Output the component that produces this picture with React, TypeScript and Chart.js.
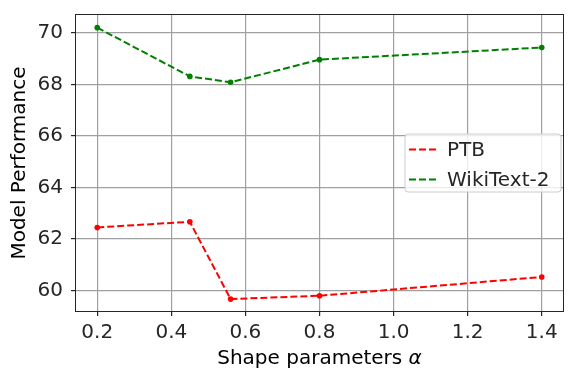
import React, { useEffect, useRef } from "react";
import { Chart, registerables } from "chart.js";

Chart.register(...registerables);

const alphaValues = [0.2, 0.45, 0.56, 0.8, 1.4];
const ptbValues = [62.45, 62.67, 59.67, 59.8, 60.53];
const wikiValues = [70.2, 68.31, 68.08, 68.96, 69.43];
const xTickValues = [0.2, 0.4, 0.6, 0.8, 1.0, 1.2, 1.4];
const yTickValues = [60, 62, 64, 66, 68, 70];
const seriesLabels = ["PTB", "WikiText-2"];
const seriesColors = ["#ff0000", "#008000"];

const FONT = "'DejaVu Sans', sans-serif";
const FS = 20;
const DASH = [7, 3];

const framePlugin = {
  id: "frameLegendTitle",
  afterDraw(chart: any) {
    const { ctx, chartArea: a } = chart;
    ctx.save();
    // frame
    ctx.strokeStyle = "#262626";
    ctx.lineWidth = 1;
    ctx.strokeRect(a.left + 0.5, a.top + 0.5, a.right - a.left - 1, a.bottom - a.top - 1);

    // legend
    const lx = 405, ly = 134, lw = 156, lh = 58, r = 3;
    ctx.beginPath();
    ctx.moveTo(lx + r, ly);
    ctx.lineTo(lx + lw - r, ly);
    ctx.quadraticCurveTo(lx + lw, ly, lx + lw, ly + r);
    ctx.lineTo(lx + lw, ly + lh - r);
    ctx.quadraticCurveTo(lx + lw, ly + lh, lx + lw - r, ly + lh);
    ctx.lineTo(lx + r, ly + lh);
    ctx.quadraticCurveTo(lx, ly + lh, lx, ly + lh - r);
    ctx.lineTo(lx, ly + r);
    ctx.quadraticCurveTo(lx, ly, lx + r, ly);
    ctx.closePath();
    ctx.fillStyle = "rgba(255,255,255,0.8)";
    ctx.fill();
    ctx.strokeStyle = "#cccccc";
    ctx.stroke();

    chart.data.datasets.forEach((ds: any, i: number) => {
      const y = 149.5 + i * 30;
      ctx.beginPath();
      ctx.setLineDash(DASH);
      ctx.strokeStyle = ds.borderColor;
      ctx.lineWidth = 2;
      ctx.moveTo(409, y);
      ctx.lineTo(437, y);
      ctx.stroke();
      ctx.setLineDash([]);
      ctx.fillStyle = "#262626";
      ctx.font = `${FS}px ${FONT}`;
      ctx.textBaseline = "alphabetic";
      ctx.textAlign = "left";
      ctx.fillText(ds.label, 447, y + 6);
    });

    // x title with italic alpha
    const part1 = "Shape parameters ";
    const part2 = "α";
    ctx.font = `${FS}px ${FONT}`;
    const w1 = ctx.measureText(part1).width;
    ctx.font = `italic ${FS}px ${FONT}`;
    const w2 = ctx.measureText(part2).width;
    const cx = (a.left + a.right) / 2;
    const sx = cx - (w1 + w2) / 2;
    ctx.fillStyle = "#000";
    ctx.textBaseline = "alphabetic";
    ctx.textAlign = "left";
    ctx.font = `${FS}px ${FONT}`;
    ctx.fillText(part1, sx, 364);
    ctx.font = `italic ${FS}px ${FONT}`;
    ctx.fillText(part2, sx + w1, 364);
    ctx.restore();
  },
};

export default function App() {
  const ref = useRef<HTMLCanvasElement>(null);
  useEffect(() => {
    document.body.style.margin = "0";
    const mk = (i: number, vals: number[]) => ({
      label: seriesLabels[i],
      data: alphaValues.map((x, j) => ({ x, y: vals[j] })),
      borderColor: seriesColors[i],
      backgroundColor: seriesColors[i],
      borderDash: DASH,
      borderWidth: 2,
      pointRadius: 2.8,
      pointBorderWidth: 0,
      tension: 0,
    });
    const chart = new Chart(ref.current!, {
      type: "line",
      data: {
        datasets: [mk(0, ptbValues), mk(1, wikiValues)],
      },
      options: {
        animation: false,
        responsive: false,
        devicePixelRatio: 1,
        layout: { padding: { top: 14, right: 1, left: 0, bottom: 0 } },
        plugins: { legend: { display: false }, tooltip: { enabled: false } },
        scales: {
          x: {
            type: "linear",
            min: 0.14,
            max: 1.46,
            afterBuildTicks: (s: any) => {
              s.ticks = xTickValues.map((v) => ({ value: v }));
            },
            afterFit: (s: any) => {
              s.height = 57;
              s.paddingLeft = 0;
              s.paddingRight = 0;
            },
            ticks: {
              color: "#262626",
              font: { family: FONT, size: FS },
              padding: 5,
              maxRotation: 0,
              callback: (v: any) => Number(v).toFixed(1),
            },
            grid: { color: "#a0a0a0", lineWidth: 1.2, tickColor: "#262626", tickLength: 4 },
            border: { display: false },
          },
          y: {
            type: "linear",
            min: 59.17,
            max: 70.73,
            afterBuildTicks: (s: any) => {
              s.ticks = yTickValues.map((v) => ({ value: v }));
            },
            afterFit: (s: any) => {
              s.width = 75;
              s.paddingTop = 0;
              s.paddingBottom = 0;
            },
            title: {
              display: true,
              text: "Model Performance",
              color: "#000",
              font: { family: FONT, size: FS },
              padding: { top: 8, bottom: 0 },
            },
            ticks: {
              color: "#262626",
              font: { family: FONT, size: FS },
              padding: 8,
              callback: (v: any) => String(v),
            },
            grid: { color: "#a0a0a0", lineWidth: 1.2, tickColor: "#262626", tickLength: 4 },
            border: { display: false },
          },
        },
      },
      plugins: [framePlugin],
    } as any);
    return () => chart.destroy();
  }, []);
  return (
    <div style={{ position: "fixed", left: 0, top: 0, width: 568, height: 369 }}>
      <canvas ref={ref} width={568} height={369} />
    </div>
  );
}
